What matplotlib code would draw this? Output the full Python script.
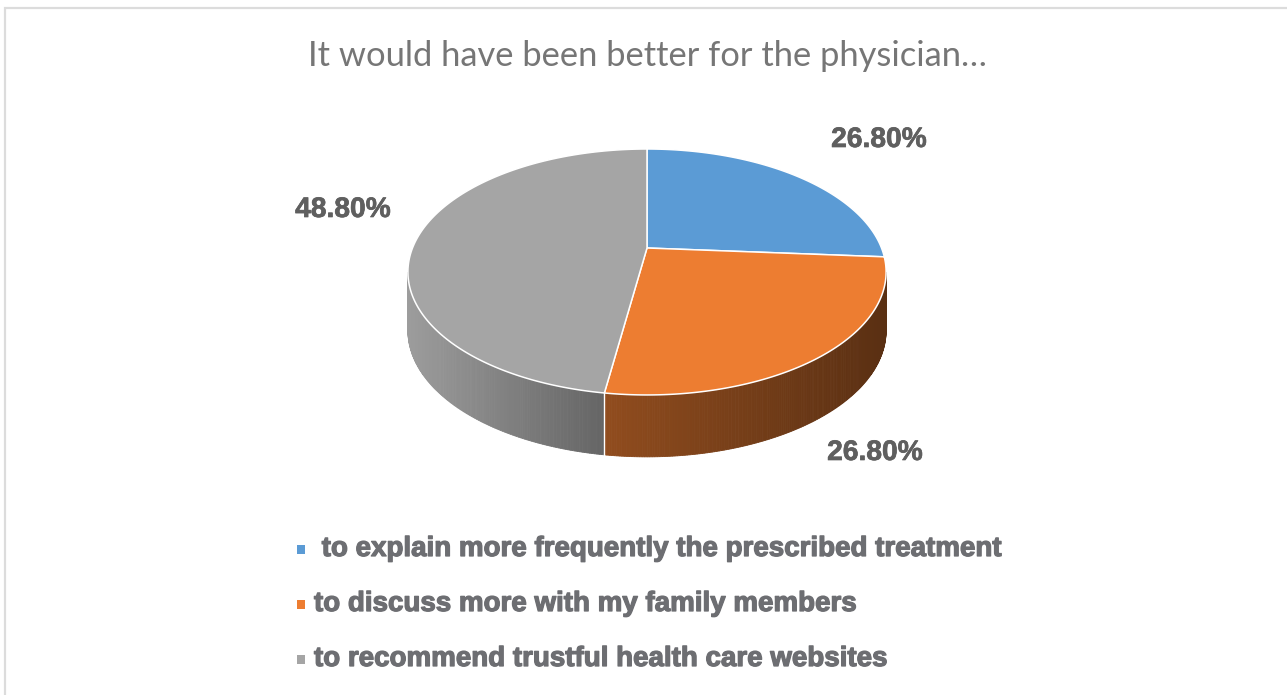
import numpy as np
import matplotlib
matplotlib.use("Agg")
import matplotlib.pyplot as plt
import matplotlib.patheffects as pe
from matplotlib.patches import Polygon, Rectangle

# ---- data ----
title = "It would have been better for the physician\u2026"
categories = [
    " to explain more frequently the prescribed treatment",
    "to discuss more with my family members",
    "to recommend trustful health care websites",
]
values = [26.80, 26.80, 48.80]
colors = ["#5b9bd5", "#ed7d31", "#a5a5a5"]

# ---- layout (pixel coordinates) ----
W, H = 1287, 695
label_xy = [(879, 140), (875, 453), (343, 210)]
legend_y = [549, 604, 659]
legend_marker_x = 297
legend_text_x = 314

fig = plt.figure(figsize=(W / 100, H / 100), dpi=100)
ax = fig.add_axes([0, 0, 1, 1])
ax.set_xlim(0, W)
ax.set_ylim(H, 0)
ax.axis("off")

# chart frame
ax.plot([5, 5, W], [H, 8, 8], color="#dcdcdc", lw=1.6, solid_capstyle="butt",
        solid_joinstyle="miter")

# ---- 3D pie geometry ----
cx, cy = 647, 248          # projected centre of the top face
A, B, k = 234.5, 118.3, 0.195
depth = 58.0


def proj(theta_deg, drop=0.0):
    t = np.radians(theta_deg)
    c, s = np.cos(t), np.sin(t)
    p = 1.0 / (1.0 + k * s)
    X = cx + A * c * p
    Y = cy - B * s * p + drop * p ** 0.3
    return X, Y


def shade(x):
    return np.interp(x, [408, 606, 885], [0.95, 0.61, 0.38])


def darker(hexcol, f):
    rgb = np.array(matplotlib.colors.to_rgb(hexcol))
    return tuple(np.clip(rgb * f, 0, 1))


fracs = np.array(values) / np.sum(values)
starts = 90 - 360 * np.concatenate([[0], np.cumsum(fracs)[:-1]])
ends = starts - 360 * fracs

vis_lo = 180 + np.degrees(np.arcsin(k))
vis_hi = 360 - np.degrees(np.arcsin(k))

# side walls
for st, en, col in zip(starts, ends, colors):
    a0, a1 = en % 360, st % 360
    if a1 <= a0:
        a1 += 360
    lo, hi = max(a0, vis_lo), min(a1, vis_hi)
    if hi <= lo:
        continue
    th = np.linspace(lo, hi, int((hi - lo) * 2) + 2)
    for t0, t1 in zip(th[:-1], th[1:]):
        x0, y0 = proj(t0)
        x1, y1 = proj(t1)
        _, b0 = proj(t0, depth)
        _, b1 = proj(t1, depth)
        fc = darker(col, shade((x0 + x1) / 2))
        ax.add_patch(Polygon([(x0, y0), (x1, y1), (x1, b1), (x0, b0)],
                             closed=True, facecolor=fc, edgecolor=fc, lw=0.6))

# seams on the side wall
for st in starts:
    a = st % 360
    if vis_lo <= a <= vis_hi:
        x, y = proj(a)
        _, yb = proj(a, depth)
        ax.plot([x, x], [y, yb], color="white", lw=1.0)

# top faces
for st, en, col in zip(starts, ends, colors):
    th = np.linspace(st, en, 300)
    xs, ys = proj(th)
    pts = [(cx, cy)] + list(zip(xs, ys))
    ax.add_patch(Polygon(pts, closed=True, facecolor=col, edgecolor="white",
                         lw=1.1, joinstyle="round"))

# ---- data labels ----
for (lx, ly), v in zip(label_xy, values):
    ax.text(lx, ly, f"{v:.2f}%", ha="center", va="center",
            fontsize=20.3, fontweight="bold", family="Liberation Sans",
            color="#5f5f5f",
            path_effects=[pe.withStroke(linewidth=0.5, foreground="#5f5f5f")])

renderer = fig.canvas.get_renderer()

# ---- title ----
tt = ax.text(647, 56, title, ha="center", va="center", fontsize=30,
             family=["Lato", "DejaVu Sans"], fontweight="normal",
             color="#767676")
bb = tt.get_window_extent(renderer)
tt.set_fontsize(30 * 677 / bb.width)

# ---- legend ----
texts = []
heavy = [pe.withStroke(linewidth=0.9, foreground="#6d6e72")]
for y, lab, col in zip(legend_y, categories, colors):
    ax.add_patch(Rectangle((legend_marker_x, y - 4.5), 8, 9, facecolor=col,
                           edgecolor="none"))
    texts.append(ax.text(legend_text_x, y, lab, ha="left", va="center",
                         fontsize=18, fontweight="bold",
                         family=["Liberation Sans Narrow", "Liberation Sans"],
                         color="#6d6e72", path_effects=heavy))
bb = texts[2].get_window_extent(renderer)
fs = 18 * 574 / bb.width
for t in texts:
    t.set_fontsize(fs)

fig.savefig("out.png", dpi=100)
